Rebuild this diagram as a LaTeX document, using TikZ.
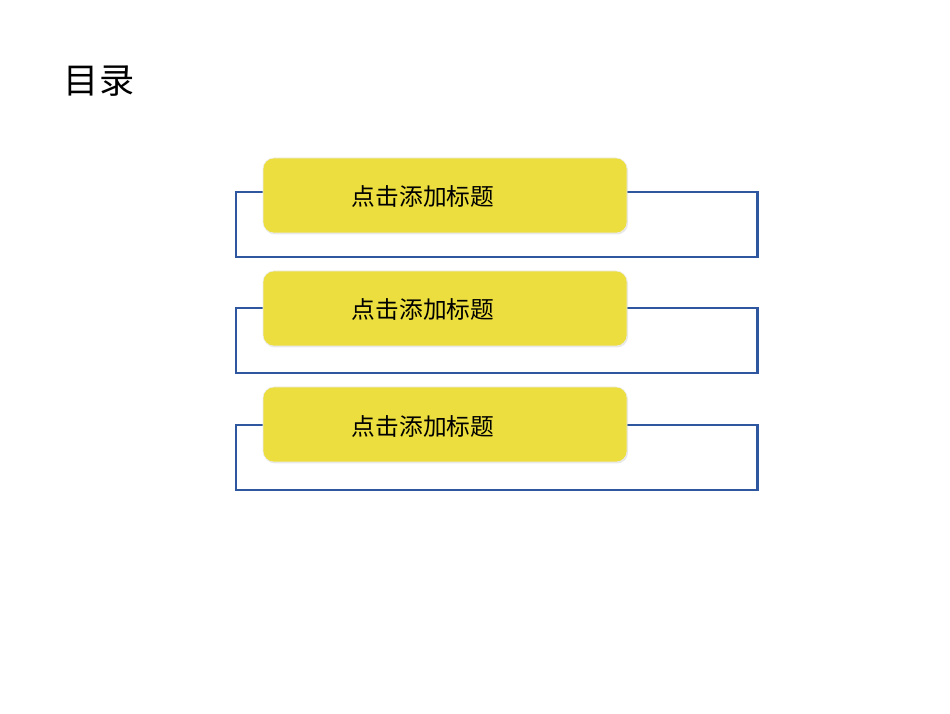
\documentclass[tikz,border=0pt]{standalone}
\usepackage{fontspec}
\setmainfont{Noto Sans CJK SC}
\usetikzlibrary{shadows, backgrounds}
\definecolor{titleyellow}{HTML}{EBDE3E}
\definecolor{frameblue}{HTML}{2F57A0}
\tikzstyle{titlebox} = [
    rectangle,
    rounded corners=0.22cm,
    minimum width=7.28cm,
    minimum height=1.5cm,
    fill=titleyellow,
    draw=black!8,
    line width=0.3pt,
    drop shadow={opacity=0.18, shadow xshift=0.02cm, shadow yshift=-0.03cm}
]
\tikzstyle{titletext} = [font=\fontsize{13.5}{16}\selectfont, text=black]
\tikzstyle{frame} = [draw=frameblue, line width=1.4pt]

\begin{document}
\begin{tikzpicture}[node distance=2.26cm]
\useasboundingbox (0,0) rectangle (19,14.26);

\node (heading) at (1.98,12.64) [font=\fontsize{20}{24}\selectfont] {目录};

\node (box1) at (8.9,10.35) [titlebox] {};
\node (box2) [titlebox, below of=box1] {};
\node (box3) [titlebox, below of=box2, yshift=-0.06cm] {};

\node (text1) [titletext] at ([xshift=-0.44cm,yshift=-0.03cm]box1.center) {点击添加标题};
\node (text2) [titletext] at ([xshift=-0.44cm,yshift=-0.03cm]box2.center) {点击添加标题};
\node (text3) [titletext] at ([xshift=-0.44cm,yshift=-0.03cm]box3.center) {点击添加标题};

% blue frames behind the boxes
\begin{scope}[on background layer]
\foreach \b/\dy in {box1/0.07, box2/0.01, box3/-0.01} {
    \draw [frame] ([xshift=-0.54cm,yshift=\dy cm]\b.west)
        rectangle ([xshift=2.6cm,yshift=\dy cm - 1.3cm]\b.east);
}
\end{scope}

\end{tikzpicture}
\end{document}
